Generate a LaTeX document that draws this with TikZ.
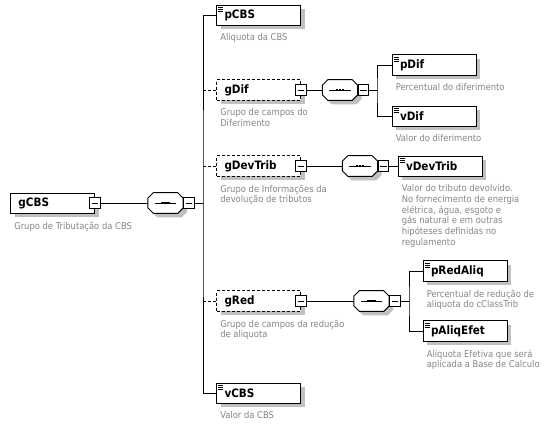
\documentclass[tikz,border=0pt]{standalone}
\usepackage{fontspec}
\usepackage{xcolor}
\usepackage{tikz}
\usetikzlibrary{positioning,shadows}
\newfontfamily\xsdfont{DejaVu Sans Condensed}
\definecolor{descgray}{HTML}{858585}
\definecolor{shadowgray}{HTML}{C0C0C0}

\tikzset{
  elem/.style={draw,fill=white,line width=0.75pt,minimum height=15pt,text width=51pt,
    inner xsep=6pt,align=left,font=\xsdfont\bfseries\fontsize{8.7}{10}\selectfont,
    drop shadow={shadow xshift=3pt,shadow yshift=-3pt,fill=shadowgray,opacity=1}},
  opt/.style={dashed,dash pattern=on 2.25pt off 1.5pt},
  leaf/.style={elem,path picture={
    \foreach \k in {1,2,3}
      \draw[black,line width=0.6pt,solid] ([xshift=1.2pt,yshift=-\k*1.5pt]path picture bounding box.north west) -- ++(4pt,0);}},
  minus/.style={draw,solid,fill=white,line width=0.8pt,minimum size=8pt,inner sep=0pt,
    path picture={\draw[black,line width=0.75pt] ([xshift=1.5pt]path picture bounding box.west) -- ([xshift=-1.5pt]path picture bounding box.east);}},
  seq/.style={minimum width=26pt,minimum height=15pt,inner sep=0pt},
  desc/.style={anchor=north west,inner sep=0pt,align=left,text=descgray,
    font=\xsdfont\fontsize{7}{8}\selectfont},
  conn/.style={line width=0.75pt}
}

\begin{document}
\begin{tikzpicture}[x=0.75pt,y=-0.75pt]
    \useasboundingbox (0,0) rectangle (548,425);
    % root
    \node[elem] (gCBS) at (52.5,203) {gCBS};
    \node[minus] (gCBS-m) at (gCBS.east) {};
    \node[desc,below right=6pt and 3pt of gCBS.south west] (d-gCBS) {Grupo de Tributação da CBS};
    \coordinate (jCBS) at (203,203);

    % children of gCBS
    \node[leaf] (pCBS) at (258.5,15) {pCBS};
    \node[desc,below right=6pt and 3pt of pCBS.south west] (d-pCBS) {Aliquota da CBS};

    \node[elem,opt] (gDif) at (258.5,90) {gDif};
    \node[minus] (gDif-m) at (gDif.east) {};
    \node[desc,below right=6pt and 3pt of gDif.south west] (d-gDif) {Grupo de campos do\\Diferimento};

    \node[elem,opt] (gDevTrib) at (258.5,166) {gDevTrib};
    \node[minus] (gDevTrib-m) at (gDevTrib.east) {};
    \node[desc,below right=6pt and 3pt of gDevTrib.south west] (d-gDevTrib) {Grupo de Informações da\\devolução de tributos};

    \node[elem,opt] (gRed) at (258.5,301) {gRed};
    \node[minus] (gRed-m) at (gRed.east) {};
    \node[desc,below right=6pt and 3pt of gRed.south west] (d-gRed) {Grupo de campos da redução\\de aliquota};

    \node[leaf] (vCBS) at (258.5,393) {vCBS};
    \node[desc,below right=6pt and 3pt of vCBS.south west] (d-vCBS) {Valor da CBS};

    % gDif
    \coordinate (jDif) at (377,90);
    \node[leaf] (pDif) at (434,65) {pDif};
    \node[desc,below right=6pt and 3pt of pDif.south west] (d-pDif) {Percentual do diferimento};
    \node[leaf] (vDif) at (434,116) {vDif};
    \node[desc,below right=6pt and 3pt of vDif.south west] (d-vDif) {Valor do diferimento};

    % gDevTrib
    \node[leaf] (vDevTrib) at (440,166) {vDevTrib};
    \node[desc,below right=6pt and 3pt of vDevTrib.south west] (d-vDevTrib) {Valor do tributo devolvido.\\No fornecimento de energia\\elétrica, água, esgoto e\\gás natural e em outras\\hipóteses definidas no\\regulamento};

    % gRed
    \coordinate (jRed) at (409,301);
    \node[leaf] (pRedAliq) at (465,271) {pRedAliq};
    \node[desc,below right=6pt and 3pt of pRedAliq.south west] (d-pRedAliq) {Percentual de redução de\\aliquota do cClassTrib};
    \node[leaf] (pAliqEfet) at (465,331) {pAliqEfet};
    \node[desc,below right=6pt and 3pt of pAliqEfet.south west] (d-pAliqEfet) {Aliquota Efetiva que será\\aplicada a Base de Calculo};

    % sequence compositors
    \node[seq] (sCBS) at (165.5,203) {};
    \node[seq] (sDif) at (340,90) {};
    \node[seq] (sDevTrib) at (360,166) {};
    \node[seq] (sRed) at (371.5,301) {};
    \foreach \s in {sCBS,sDif,sDevTrib,sRed}{
      \fill[shadowgray,transform canvas={shift={(3pt,-3pt)}}] ([xshift=4pt]\s.north west) -- ([xshift=-4pt]\s.north east)
        -- ([yshift=-4pt]\s.north east) -- ([yshift=4pt]\s.south east) -- ([xshift=-4pt]\s.south east)
        -- ([xshift=4pt]\s.south west) -- ([yshift=4pt]\s.south west) -- ([yshift=-4pt]\s.north west) -- cycle;
      \filldraw[conn,fill=white] ([xshift=4pt]\s.north west) -- ([xshift=-4pt]\s.north east)
        -- ([yshift=-4pt]\s.north east) -- ([yshift=4pt]\s.south east) -- ([xshift=-4pt]\s.south east)
        -- ([xshift=4pt]\s.south west) -- ([yshift=4pt]\s.south west) -- ([yshift=-4pt]\s.north west) -- cycle;
      \draw[conn] ([xshift=-8pt]\s.center) -- ([xshift=8pt]\s.center);
      \foreach \d in {-2.3,0,2.3}
        \fill ([xshift=\d pt]\s.center) +(-0.85pt,-1.1pt) rectangle +(0.85pt,1.1pt);
    }
    \node[minus,anchor=west] (sCBS-m) at (sCBS.east) {};
    \node[minus,anchor=west] (sDif-m) at (sDif.east) {};
    \node[minus,anchor=west] (sDevTrib-m) at (sDevTrib.east) {};
    \node[minus,anchor=west] (sRed-m) at (sRed.east) {};

    % connectors
    \draw[conn] (gCBS-m) -- (sCBS);
    \draw[conn] (sCBS-m) -- (jCBS);
    \draw[conn] (pCBS.west) -| (jCBS) |- (vCBS.west);
    \draw[conn,opt] (jCBS |- gDif.west) -- (gDif.west);
    \draw[conn,opt] (jCBS |- gDevTrib.west) -- (gDevTrib.west);
    \draw[conn,opt] (jCBS |- gRed.west) -- (gRed.west);

    \draw[conn] (gDif-m) -- (sDif);
    \draw[conn] (sDif-m) -- (jDif);
    \draw[conn] (pDif.west) -| (jDif) |- (vDif.west);

    \draw[conn] (gDevTrib-m) -- (sDevTrib);
    \draw[conn] (sDevTrib-m) -- (vDevTrib);

    \draw[conn] (gRed-m) -- (sRed);
    \draw[conn] (sRed-m) -- (jRed);
    \draw[conn] (pRedAliq.west) -| (jRed) |- (pAliqEfet.west);
\end{tikzpicture}
\end{document}
